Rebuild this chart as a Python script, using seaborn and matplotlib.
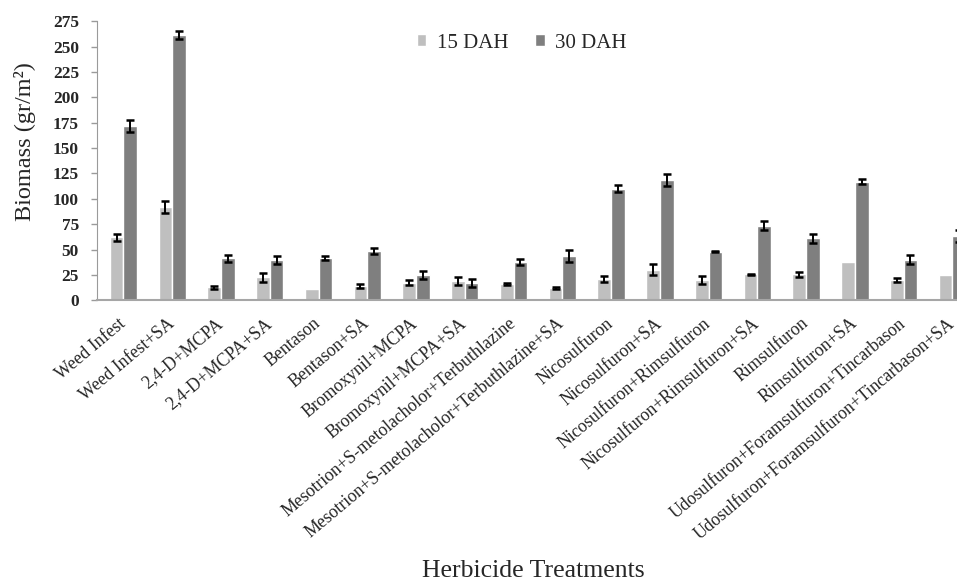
import matplotlib
matplotlib.use("Agg")
import matplotlib.pyplot as plt
import matplotlib.transforms as mtransforms
import seaborn as sns
import pandas as pd
import numpy as np

treatments = [
    "Weed Infest", "Weed Infest+SA", "2,4-D+MCPA", "2,4-D+MCPA+SA",
    "Bentason", "Bentason+SA", "Bromoxynil+MCPA", "Bromoxynil+MCPA+SA",
    "Mesotrion+S-metolacholor+Terbuthlazine",
    "Mesotrion+S-metolacholor+Terbuthlazine+SA",
    "Nicosulfuron", "Nicosulfuron+SA", "Nicosulfuron+Rimsulfuron",
    "Nicosulfuron+Rimsulfuron+SA", "Rimsulfuron", "Rimsulfuron+SA",
    "Udosulfuron+Foramsulfuron+Tincarbason",
    "Udosulfuron+Foramsulfuron+Tincarbason+SA",
]
stages = ["15 DAH", "30 DAH"]

biomass_15 = [62, 92, 13, 22.5, 11, 14, 17.5, 19, 16, 12,
              21, 30, 20, 25.5, 25.5, 37.5, 20, 25]
biomass_30 = [172, 261, 41.5, 40, 42, 49, 25, 17, 38, 44,
              110, 118.5, 48, 73.5, 61, 117, 40, 63.5]
err_15 = [3.4, 6.2, 1.5, 4.0, 0.0, 2.3, 2.8, 3.5, 0.6, 1.3,
          2.8, 5.3, 3.7, 0.5, 2.2, 0.0, 2.0, 0.0]
err_30 = [6.0, 4.0, 3.5, 4.0, 2.0, 3.0, 4.3, 3.7, 3.0, 5.8,
          3.5, 6.2, 0.5, 4.2, 4.2, 2.5, 4.3, 5.6]

df = pd.DataFrame({
    "treatment": treatments * 2,
    "stage": [stages[0]] * len(treatments) + [stages[1]] * len(treatments),
    "biomass": biomass_15 + biomass_30,
    "err": err_15 + err_30,
})

sns.set_style("white")
plt.rcParams["font.family"] = ["Liberation Serif", "DejaVu Serif"]

fig = plt.figure(figsize=(9.57, 5.81), dpi=100)
ax = fig.add_axes([97 / 957, 280.7 / 581, 879.8 / 957, 279.1 / 581])

sns.barplot(data=df, x="treatment", y="biomass", hue="stage",
            palette=["#BFBFBF", "#7F7F7F"], width=0.56, errorbar=None,
            saturation=1, ax=ax, legend=True)

# error bars centred on each drawn bar
for container, stage in zip(ax.containers, stages):
    sub = df[df["stage"] == stage]
    xs = [p.get_x() + p.get_width() / 2 for p in container.patches]
    hs = [p.get_height() for p in container.patches]
    errs = sub["err"].to_numpy()
    mask = errs > 0
    ax.errorbar(np.array(xs)[mask], np.array(hs)[mask], yerr=errs[mask],
                fmt="none", ecolor="black", elinewidth=1.4, capsize=3.2,
                capthick=1.8, zorder=5)

ax.set_xlim(-0.543, 17.5)
ax.set_ylim(0, 275)
ax.set_yticks(np.arange(0, 276, 25))
ax.tick_params(axis="y", which="major", left=True, length=4, width=1,
               color="#9A9A9A", pad=9)
ax.tick_params(axis="x", bottom=False, pad=6)
for lbl in ax.get_yticklabels():
    lbl.set_fontsize(12.5)
    lbl.set_fontweight("bold")

ax.set_xticks(range(len(treatments)))
ax.set_xticklabels(treatments, rotation=40, ha="right",
                   rotation_mode="anchor", fontsize=12.8)
# nudge the slanted category names a little left so the last one fits
shift = mtransforms.ScaledTranslation(-4 / 72, -1 / 72, fig.dpi_scale_trans)
for lbl in ax.get_xticklabels():
    lbl.set_transform(lbl.get_transform() + shift)

for side in ["top", "right"]:
    ax.spines[side].set_visible(False)
ax.spines["left"].set_color("#9A9A9A")
ax.spines["bottom"].set_color("#A6A6A6")
ax.spines["bottom"].set_linewidth(1.5)

ax.set_ylabel("")
ax.set_xlabel("")
fig.text(25 / 957, 1 - 141.5 / 581, "Biomass (gr/m²)", fontsize=17.5,
         rotation=90, ha="center", va="center")
fig.text(533 / 957, 1 - 577 / 581, "Herbicide Treatments", fontsize=18.5,
         ha="center", va="baseline")

ax.legend(title=None, frameon=False, ncol=2, fontsize=15,
          loc="center left", bbox_to_anchor=(398 / 957, 1 - 43 / 581),
          bbox_transform=fig.transFigure, handlelength=0.45,
          handleheight=0.45, handletextpad=0.5, columnspacing=1.3)

fig.savefig("out.png", dpi=100)
